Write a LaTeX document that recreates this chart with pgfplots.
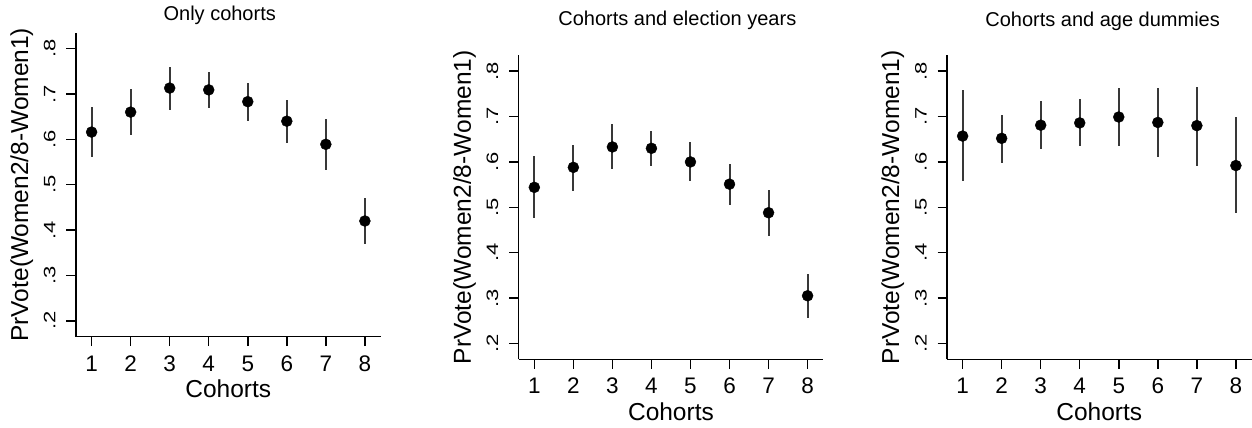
\documentclass[border=0pt]{standalone}
\usepackage{fontspec}
\setmainfont{Liberation Sans}
\usepackage{pgfplots}
\pgfplotsset{compat=1.18}
\usepackage{pgfplotstable}

% cohort, point estimate, lower and upper bound of the interval
\pgfplotstableread{
c y lo hi
1 0.616 0.561 0.672
2 0.660 0.610 0.712
3 0.713 0.665 0.760
4 0.709 0.670 0.749
5 0.683 0.640 0.724
6 0.640 0.593 0.687
7 0.589 0.533 0.645
8 0.420 0.370 0.471
}\onlycoh

\pgfplotstableread{
c y lo hi
1 0.544 0.476 0.612
2 0.588 0.536 0.638
3 0.633 0.584 0.683
4 0.630 0.590 0.669
5 0.600 0.557 0.644
6 0.551 0.506 0.596
7 0.488 0.437 0.539
8 0.305 0.257 0.352
}\cohyear

\pgfplotstableread{
c y lo hi
1 0.657 0.557 0.759
2 0.652 0.598 0.704
3 0.681 0.628 0.735
4 0.686 0.635 0.738
5 0.699 0.636 0.763
6 0.687 0.611 0.764
7 0.680 0.591 0.766
8 0.592 0.487 0.699
}\cohage

\pgfplotsset{
  stata/.style={
    scale only axis, width=304.5pt, height=304pt,
    xmin=0.6, xmax=8.4, ymin=0.165, ymax=0.835,
    axis x line*=bottom, axis y line*=left,
    axis line style={line width=1.5pt, -},
    tick align=outside, major tick length=9.5pt,
    tick style={line width=1.5pt, black},
    xtick={1,2,3,4,5,6,7,8}, xticklabels={1,2,3,4,5,6,7,8},
    ytick={0.2,0.3,0.4,0.5,0.6,0.7,0.8},
    yticklabels={.2,.3,.4,.5,.6,.7,.8},
    xticklabel style={font=\fontsize{22.5}{26}\selectfont, anchor=base, yshift=-25pt},
    % shifts act in the rotated frame: yshift moves the label to the left
    yticklabel style={font=\fontsize{22}{26}\selectfont, rotate=90, anchor=base,
      yshift=11pt, yscale=0.75},
    xlabel={Cohorts},
    ylabel={PrVote(Women2/8-Women1)},
    label style={font=\fontsize{24.5}{28}\selectfont},
    xlabel style={at={(axis description cs:0.5,-0.2016)}, anchor=base},
    ylabel style={at={(axis description cs:-0.157,0.5)}, anchor=base},
    title style={anchor=base, font=\fontsize{20}{24}\selectfont},
    clip=false,
  },
  ci/.style={only marks, mark=*, mark size=5.5pt, black,
    error bars/.cd, y dir=both, y explicit, error mark=none,
    error bar style={line width=2pt, black!78}},
}

\begin{document}
\begin{tikzpicture}
\useasboundingbox (0,0) rectangle (1252pt,428pt);

\begin{axis}[stata, at={(76pt,91.3pt)}, anchor=south west,
  title={Only cohorts},
  title style={at={(axis description cs:0.472,1.022)}}]
\addplot[ci] table[x=c, y=y,
  y error plus expr=\thisrow{hi}-\thisrow{y},
  y error minus expr=\thisrow{y}-\thisrow{lo}] {\onlycoh};
\end{axis}

\begin{axis}[stata, at={(518.7pt,68.7pt)}, anchor=south west,
  title={Cohorts and election years},
  title style={at={(axis description cs:0.521,1.078)}}]
\addplot[ci] table[x=c, y=y,
  y error plus expr=\thisrow{hi}-\thisrow{y},
  y error minus expr=\thisrow{y}-\thisrow{lo}] {\cohyear};
\end{axis}

\begin{axis}[stata, at={(947pt,68.7pt)}, anchor=south west,
  title={Cohorts and age dummies},
  title style={at={(axis description cs:0.511,1.074)}}]
\addplot[ci] table[x=c, y=y,
  y error plus expr=\thisrow{hi}-\thisrow{y},
  y error minus expr=\thisrow{y}-\thisrow{lo}] {\cohage};
\end{axis}
\end{tikzpicture}
\end{document}
